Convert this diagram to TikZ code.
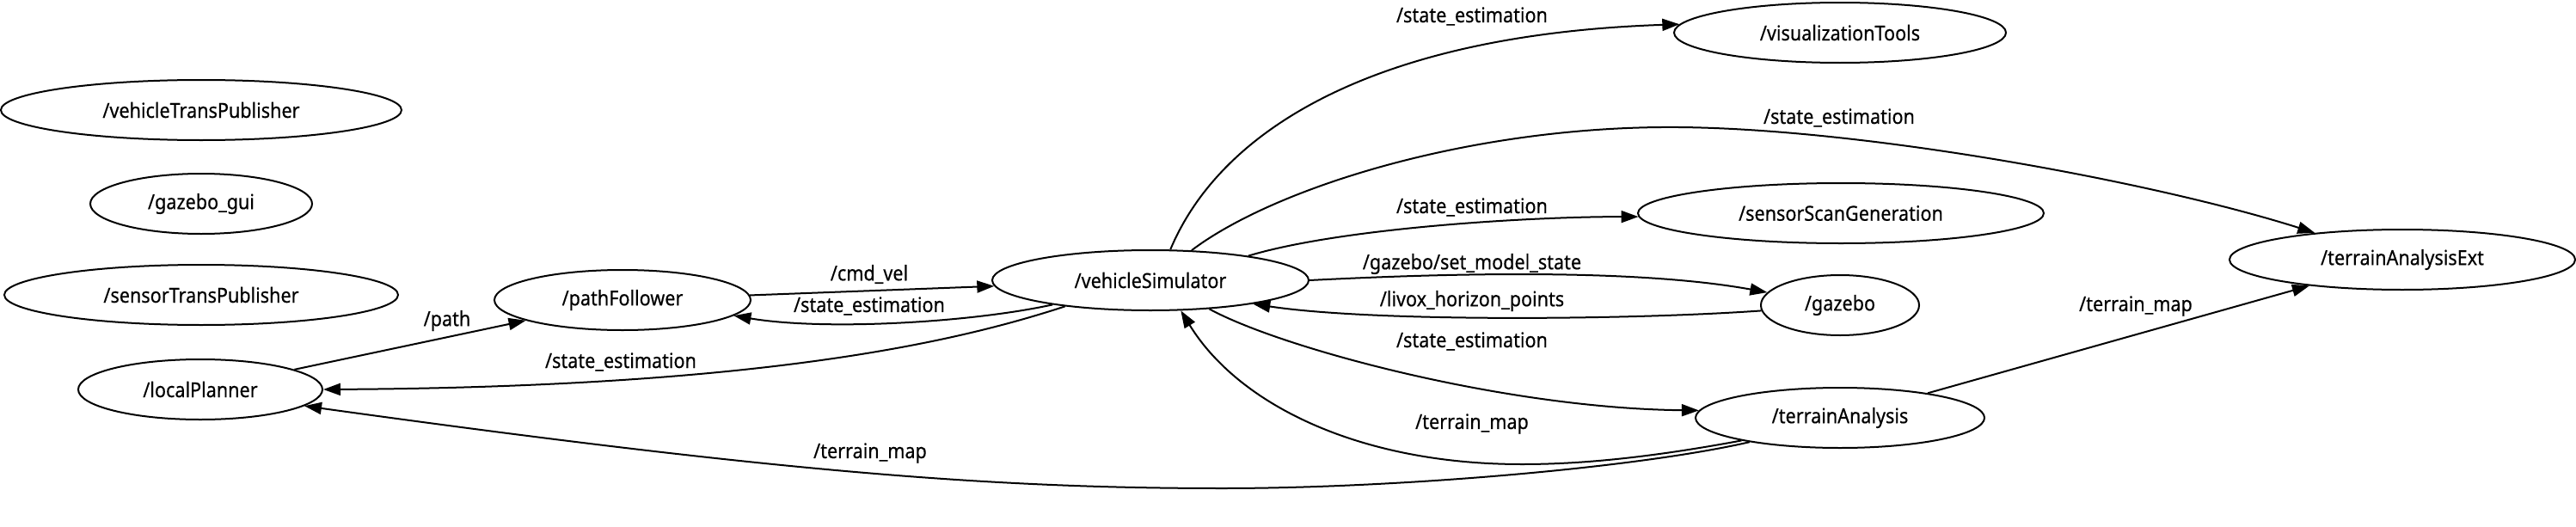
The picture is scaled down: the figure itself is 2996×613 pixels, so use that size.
\documentclass[tikz,border=0pt]{standalone}
\usepackage{fontspec}
\setmainfont{Noto Sans}[FakeStretch=0.9,FakeBold=0.4]
\usetikzlibrary{shapes.geometric,arrows.meta}
\tikzset{
  rosnode/.style={draw, ellipse, line width=2pt, minimum height=70pt, inner sep=0pt},
  topic/.style={inner sep=0pt},
  link/.style={line width=2pt, -{Triangle[length=20pt,width=14pt]}}
}
\begin{document}
\begin{tikzpicture}[x=1pt,y=-1pt,font=\fontsize{24}{29}\selectfont]
\useasboundingbox (0,0) rectangle (2996,613);
\node[rosnode, minimum width=466pt] (vtp) at (234,128) {/vehicleTransPublisher};
\node[rosnode, minimum width=258pt] (gui) at (234,237) {/gazebo\_gui};
\node[rosnode, minimum width=458pt] (stp) at (234,343) {/sensorTransPublisher};
\node[rosnode, minimum width=284pt] (lp) at (233,453) {/localPlanner};
\node[rosnode, minimum width=298pt] (pf) at (724,349) {/pathFollower};
\node[rosnode, minimum width=368pt] (vs) at (1338,326) {/vehicleSimulator};
\node[rosnode, minimum width=386pt] (vt) at (2140,38) {/visualizationTools};
\node[rosnode, minimum width=472pt] (ssg) at (2141,248) {/sensorScanGeneration};
\node[rosnode, minimum width=184pt] (gz) at (2140,355) {/gazebo};
\node[rosnode, minimum width=336pt] (ta) at (2140,486) {/terrainAnalysis};
\node[rosnode, minimum width=402pt] (tae) at (2794,302) {/terrainAnalysisExt};

\draw[link] (lp) -- (pf);
\draw[link] (pf) -- (vs);
\draw[link] (vs.194) .. controls (1130,375) and (960,385) .. (pf.352);
\draw[link] (vs.197) .. controls (1120,395) and (900,450) .. (lp.east);
\draw[link] (ta.195) .. controls (1900,545) and (1620,568) .. (1422,568) .. controls (1150,568) and (900,548) .. (lp.351);
\draw[link] (ta.193) .. controls (1920,532) and (1840,540) .. (1770,540) .. controls (1580,540) and (1440,470) .. (vs.315);
\draw[link] (vs.east) .. controls (1680,318) and (1900,312) .. (gz.170);
\draw[link] (gz.184) .. controls (1900,372) and (1600,375) .. (vs.347);
\draw[link] (vs.334) .. controls (1490,405) and (1750,475) .. (ta.177);
\draw[link] (vs.14) .. controls (1560,265) and (1780,252) .. (ssg.181);
\draw[link] (vs.57) .. controls (1420,150) and (1600,40) .. (vt.177);
\draw[link] (vs.36) .. controls (1480,220) and (1700,150) .. (1932,148) .. controls (2150,146) and (2500,210) .. (tae.163);
\draw[link] (ta) -- (tae);

\node[topic] (tpath) at (520,373) {/path};
\node[topic] (tcmdvel) at (1011,319) {/cmd\_vel};
\node[topic] (tstatepf) at (1011,356) {/state\_estimation};
\node[topic] (tstatelp) at (722,421) {/state\_estimation};
\node[topic] (tmaplp) at (1012,527) {/terrain\_map};
\node[topic] (tmapvs) at (1712,493) {/terrain\_map};
\node[topic] (tsetstate) at (1712,307) {/gazebo/set\_model\_state};
\node[topic] (tlivox) at (1712,350) {/livox\_horizon\_points};
\node[topic] (tstateta) at (1712,397) {/state\_estimation};
\node[topic] (tstatessg) at (1712,241) {/state\_estimation};
\node[topic] (tstatevt) at (1712,19) {/state\_estimation};
\node[topic] (tstatetae) at (2139,137) {/state\_estimation};
\node[topic] (tmaptae) at (2484,356) {/terrain\_map};
\end{tikzpicture}
\end{document}
